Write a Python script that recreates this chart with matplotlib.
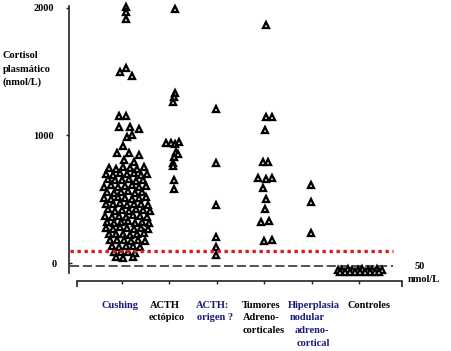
import matplotlib
matplotlib.use('Agg')
import matplotlib.pyplot as plt

plt.rcParams['font.family'] = ['Liberation Serif', 'DejaVu Serif']
plt.rcParams['font.weight'] = 'bold'

# ===== data (cortisol plasmático, nmol/L) =====
categories = ['Cushing', 'ACTH\nectópico', 'ACTH:\norigen ?',
              'Tumores\nAdreno-\ncorticales',
              'Hiperplasia\nnodular\nadreno-\ncortical', 'Controles']
label_colors = ['#1a1a78', 'black', '#1a1a78', 'black', '#1a1a78', 'black']

cushing_vals = [2003, 1968, 1911, 1499, 1525, 1465, 1152, 1152, 1063, 1068,
                1050, 990, 1003, 917, 860, 864, 846, 807, 794,
                748, 740, 752, 745, 738, 750,
                700, 692, 705, 695, 702, 690, 698,
                655, 648, 650, 660, 645, 652,
                600, 610, 598, 606, 612, 600, 605,
                560, 552, 558, 565, 550, 556,
                512, 505, 515, 508, 503, 510, 514,
                465, 460, 470, 458, 466, 462, 455,
                420, 412, 418, 410, 422, 415, 408,
                372, 365, 370, 362, 375, 368, 360,
                325, 318, 322, 330, 315, 320, 312,
                278, 270, 280, 272, 268, 276, 270,
                230, 225, 232, 222, 228, 235,
                182, 178, 185, 175, 180, 176,
                136, 130, 138, 132, 128,
                90, 85, 88, 82,
                45, 40, 48]
cushing_jit = [0.09, 0.09, 0.09, -0.035, 0.09, 0.22, -0.05, 0.085, -0.065, 0.175,
               0.365, 0.105, 0.21, 0.035, -0.105, 0.155, 0.365, 0.055, 0.265,
               -0.265, -0.12, 0.025, 0.175, 0.32, 0.47,
               -0.33, -0.185, -0.035, 0.11, 0.26, 0.405, 0.535,
               -0.29, -0.14, 0.005, 0.155, 0.30, 0.45,
               -0.375, -0.225, -0.08, 0.07, 0.215, 0.365, 0.51,
               -0.31, -0.16, -0.015, 0.135, 0.28, 0.43,
               -0.375, -0.225, -0.08, 0.07, 0.215, 0.365, 0.51,
               -0.33, -0.185, -0.035, 0.11, 0.26, 0.405, 0.555,
               -0.29, -0.14, 0.005, 0.155, 0.30, 0.45, 0.595,
               -0.35, -0.205, -0.055, 0.09, 0.24, 0.385, 0.535,
               -0.31, -0.16, -0.015, 0.135, 0.28, 0.43, 0.575,
               -0.33, -0.185, -0.035, 0.11, 0.26, 0.405, 0.555,
               -0.265, -0.12, 0.025, 0.175, 0.32, 0.47,
               -0.245, -0.10, 0.05, 0.195, 0.345, 0.49,
               -0.205, -0.055, 0.09, 0.24, 0.385,
               -0.16, -0.015, 0.135, 0.28,
               -0.12, 0.025, 0.235]

ectopico_vals = [1993, 1332, 1297, 1261, 940, 940, 935, 945, 870, 855, 830,
                 784, 760, 651, 580]
ectopico_jit = [0.12, 0.12, 0.11, 0.09, -0.06, 0.04, 0.13, 0.21, 0.145, 0.19,
                0.10, 0.09, 0.09, 0.10, 0.10]

origen_vals = [1204, 781, 455, 205, 126, 63]
origen_jit = [-0.02, -0.02, -0.02, -0.02, -0.02, -0.02]

tumores_vals = [1864, 1148, 1148, 1042, 788, 788, 670, 659, 664, 588, 501,
                423, 322, 330, 173, 180]
tumores_jit = [0.035, 0.035, 0.16, 0.02, -0.03, 0.09, -0.12, 0.035, 0.16,
               -0.03, 0.035, 0.02, -0.065, 0.11, 0.0, 0.16]

hiperplasia_vals = [612, 476, 238]
hiperplasia_jit = [-0.01, -0.01, -0.01]

controles_vals = [-50, -52, -48, -50, -53, -49, -51, -50, -48, -52,
                  -70, -72, -68, -71, -69, -70, -72, -68, -70]
controles_jit = [-0.45, -0.35, -0.24, -0.14, -0.03, 0.07, 0.18, 0.28, 0.38, 0.48,
                 -0.40, -0.29, -0.19, -0.08, 0.02, 0.12, 0.23, 0.33, 0.43]

groups = [(cushing_vals, cushing_jit), (ectopico_vals, ectopico_jit),
          (origen_vals, origen_jit), (tumores_vals, tumores_jit),
          (hiperplasia_vals, hiperplasia_jit), (controles_vals, controles_jit)]

red_level = 95       # línea punteada roja
dashed_level = -19   # línea discontinua "50 nmol/L"

# ===== figure =====
W, H = 452, 351
fig = plt.figure(figsize=(W / 100, H / 100), dpi=100)
ax = fig.add_axes([69 / W, 1 - 280.5 / H, 333 / W, 276.5 / H])
ax.set_xlim(-1.111, 5.907)
ax.set_ylim(-136, 2029)


def px(x, y):
    return x / W, 1 - y / H


for i, (vals, jit) in enumerate(groups):
    ax.plot([i + j for j in jit], vals, linestyle='none', marker='^', ms=4.8,
            mfc='white', mec='black', mew=1.65, clip_on=False, zorder=3)

ax.plot([-1.09, 5.72], [red_level, red_level], color='#dd1a1a', lw=2.4,
        dashes=(1, 1.1), dash_capstyle='butt', zorder=4)
ax.plot([-1.09, 5.72], [dashed_level, dashed_level], color='#222222', lw=1.1,
        dashes=(6, 2.4), zorder=2)

# axes
for s in ['top', 'right']:
    ax.spines[s].set_visible(False)
ax.spines['left'].set_bounds(-78, 2013)
ax.spines['bottom'].set_bounds(-0.942, 5.907)
for s in ['left', 'bottom']:
    ax.spines[s].set_linewidth(1.2)
    ax.spines[s].set_color('#222222')

ax.set_xticks(range(len(categories)))
ax.set_xticklabels([])
ax.set_xticks([-0.942, 5.907], minor=True)
ax.tick_params(axis='x', which='major', direction='out', length=2.5, width=1,
               color='#222222')
ax.tick_params(axis='x', which='minor', direction='out', length=4, width=1.2,
               color='#222222')

ax.set_yticks([1000, 2000])
ax.set_yticklabels(['1000', '2000'])
ax.set_yticks([0], minor=True)
ax.set_yticklabels(['0'], minor=True)
ax.tick_params(axis='y', which='major', direction='out', length=2.5, width=1,
               pad=8.3, labelsize=7.5, color='#222222')
ax.tick_params(axis='y', which='minor', direction='in', length=2.5, width=1,
               pad=8.9, labelsize=7.5, color='#222222')

# y label
for txt, yb in zip(['Cortisol', 'plasmático', '(nmol/L)'], [58, 71.5, 85]):
    fig.text(*px(3, yb), txt, fontsize=7.5, ha='left', va='baseline')

# 50 nmol/L
fig.text(*px(415, 269), '50', fontsize=7.5, ha='left', va='baseline')
fig.text(*px(408, 282), 'nmol/L', fontsize=7.5, ha='left', va='baseline')

# category labels
line_x = [[101.7], [150, 149], [196, 196.7], [241.7, 243, 243],
          [288, 290, 295, 297], [348]]
baselines = [307.5, 320, 333, 346]
for cat, col, xs in zip(categories, label_colors, line_x):
    for line, x, yb in zip(cat.split('\n'), xs, baselines):
        fig.text(*px(x, yb), line, fontsize=7.5, ha='left', va='baseline',
                 color=col)

fig.savefig('out.png', dpi=100, facecolor='white')
